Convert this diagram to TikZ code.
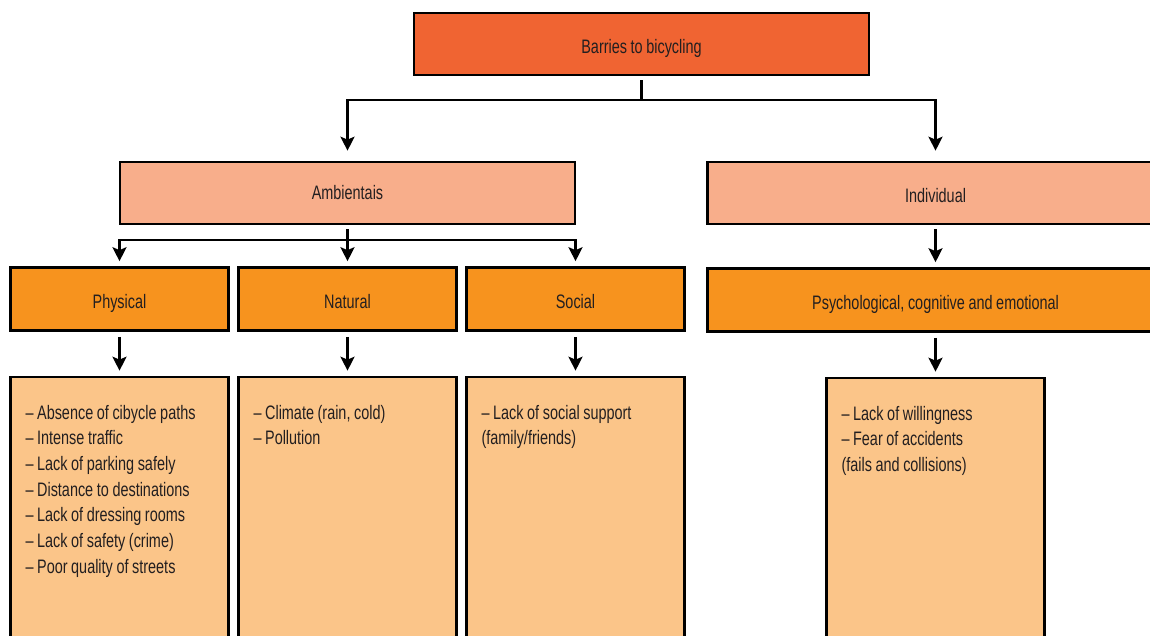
\documentclass[tikz,border=0pt]{standalone}
\usepackage{fontspec}
\setmainfont[FakeStretch=0.74, WordSpace=0.9]{Liberation Sans}
\usepackage{tikz}
\usetikzlibrary{trees,arrows.meta}

\definecolor{rootfill}{RGB}{240,100,50}
\definecolor{groupfill}{RGB}{248,174,139}
\definecolor{kindfill}{RGB}{247,147,30}
\definecolor{listfill}{RGB}{251,197,137}
\definecolor{inkgray}{RGB}{35,31,32}

\begin{document}
\begin{tikzpicture}[x=1pt, y=1pt,
  font=\fontsize{19.5}{25.7}\selectfont, text=inkgray,
  box/.style={draw, line width=2.6pt, inner sep=0pt, minimum height=62pt,
    text height=19pt, text depth=0pt},
  rootbox/.style={box, fill=rootfill, minimum width=455pt},
  groupbox/.style={box, fill=groupfill, minimum width=455pt},
  kindbox/.style={box, fill=kindfill, minimum width=218pt, minimum height=63pt},
  widebox/.style={kindbox, minimum width=456pt},
  listbox/.style={box, fill=listfill, minimum width=218pt, text width=188pt,
    align=flush left, inner xsep=15pt, inner ysep=28pt, text height=14pt, text depth=250pt},
  edge from parent/.style={draw, line width=2.3pt,
    -{Stealth[length=14pt, width=14pt, inset=3pt]}},
  level 1/.style={edge from parent path={([yshift=-4pt]\tikzparentnode.south)
    -- ([yshift=-24pt]\tikzparentnode.south) -| ([yshift=10pt]\tikzchildnode.north)}},
  level 2/.style={edge from parent path={([yshift=-4pt]\tikzparentnode.south)
    -- ([yshift=-15pt]\tikzparentnode.south) -| ([yshift=5pt]\tikzchildnode.north)}},
  level 3/.style={edge from parent path={([yshift=-5pt]\tikzparentnode.south)
    -- ([yshift=5pt]\tikzchildnode.north)}}
  ]
  \useasboundingbox (0,0) rectangle (1150,-636);
  \clip (0,0) rectangle (1150,-636);
  \node[rootbox] (barriers) at (641.5,-44) {Barries to bicycling}
  [grow via three points={one child at (0,-149) and two children at
    (-294,-149) and (294,-149)}]
  child {node[groupbox, text height=13pt] (ambient) {Ambientais}
    [grow via three points={one child at (0,-106) and two children at
      (-114,-106) and (114,-106)}]
    child {node[kindbox] (physical) {Physical}
      [grow via three points={one child at (0,-238) and two children at
        (-1,-238) and (1,-238)}]
      child {node[listbox] (physlist) {– Absence of cibycle paths\\
        – Intense traffic\\ – Lack of parking safely\\
        – Distance to destinations\\ – Lack of dressing rooms\\
        – Lack of safety (crime)\\ – Poor quality of streets}}
        }
    child {node[kindbox] (natural) {Natural}
      [grow via three points={one child at (0,-238) and two children at
        (-1,-238) and (1,-238)}]
      child {node[listbox] (natlist) {– Climate (rain, cold)\\ – Pollution}}
        }
    child {node[kindbox] (social) {Social}
      [grow via three points={one child at (0,-238) and two children at
        (-1,-238) and (1,-238)}]
      child {node[listbox] (soclist) {– Lack of social support\\ (family/friends)}}
        }
        }
  child {node[groupbox, minimum width=456pt] (individual) {Individual}
    [grow via three points={one child at (0,-107) and two children at
      (-1,-107) and (1,-107)}]
    child {node[widebox] (psycho) {Psychological, cognitive and emotional}
      [grow via three points={one child at (0,-238) and two children at
        (-1,-238) and (1,-238)}]
      child {node[listbox] (psylist) {– Lack of willingness\\
        – Fear of accidents\\ (fails and collisions)}}
        }
        }
  ;
\end{tikzpicture}
\end{document}
